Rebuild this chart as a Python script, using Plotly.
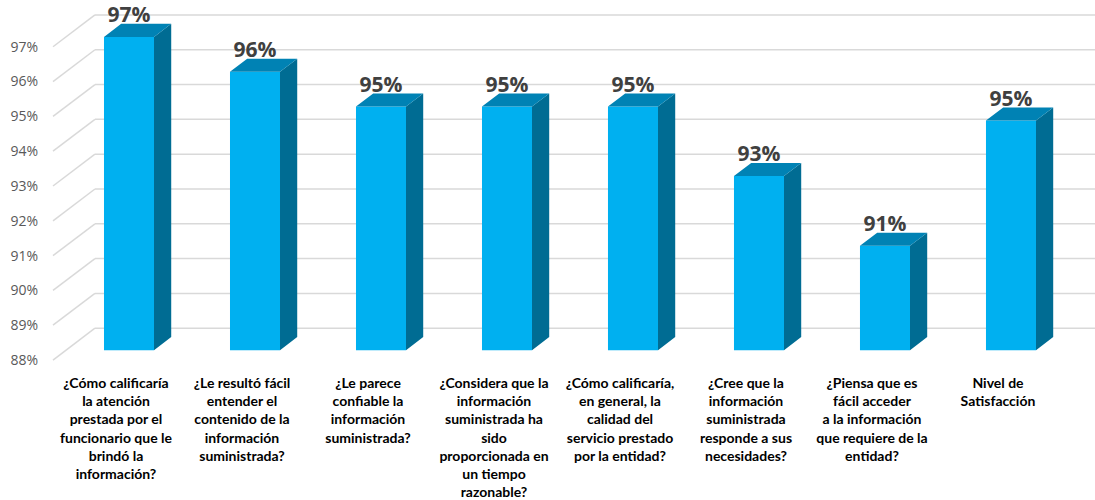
import plotly.graph_objects as go

# ---------------- data ----------------
categories = [
    "¿Cómo calificaría<br>la atención<br>prestada por el<br>funcionario que le<br>brindó la<br>información?",
    "¿Le resultó fácil<br>entender el<br>contenido de la<br>información<br>suministrada?",
    "¿Le parece<br>confiable la<br>información<br>suministrada?",
    "¿Considera que la<br>información<br>suministrada ha<br>sido<br>proporcionada en<br>un tiempo<br>razonable?",
    "¿Cómo calificaría,<br>en general, la<br>calidad del<br>servicio prestado<br>por la entidad?",
    "¿Cree que la<br>información<br>suministrada<br>responde a sus<br>necesidades?",
    "¿Piensa que es<br>fácil acceder<br>a la información<br>que requiere de la<br>entidad?",
    "Nivel de<br>Satisfacción",
]
values = [97, 96, 95, 95, 95, 93, 91, 94.6]
y_ticks = [88, 89, 90, 91, 92, 93, 94, 95, 96, 97]
y_ticklabels = [f"{t}%" for t in y_ticks]
value_labels = [f"{round(v)}%" for v in values]

# ---------------- 3D projection parameters ----------------
BASE = 88.0          # floor value
DX = 0.333           # full depth offset in category units (x)
DY = 0.914           # full depth offset in value units (y)
F0 = 0.31            # depth of bar front face
F1 = 0.72            # depth of bar back face
W = 0.397            # bar width (category units)
XMIN, XMAX = -0.5238, 7.770
YMIN, YMAX = 87.771, 98.343

FRONT = "#00B0F0"
TOP = "#0082B4"
SIDE = "#006C93"
GRID = "#D9D9D9"

xs = list(range(len(values)))
fig = go.Figure()

# gridlines (side wall diagonals + back wall horizontals)
shapes = []
for t in y_ticks:
    shapes.append(dict(type="line", xref="x", yref="y", layer="below",
                       x0=-0.5, y0=t, x1=-0.5 + DX, y1=t + DY,
                       line=dict(color=GRID, width=1.5)))
    shapes.append(dict(type="line", xref="x", yref="y", layer="below",
                       x0=-0.5 + DX, y0=t + DY, x1=8.0, y1=t + DY,
                       line=dict(color=GRID, width=1.5)))

# front faces
xc = [i + F0 * DX for i in xs]
fig.add_trace(go.Bar(x=xc, y=[v - BASE for v in values], base=BASE + F0 * DY,
                     width=W, marker=dict(color=FRONT, line=dict(width=0)),
                     hoverinfo="skip"))

# side faces and top faces
t = F1 - F0
sx, sy, tx, ty = [], [], [], []
for c, v in zip(xc, values):
    xl, xr = c - W / 2, c + W / 2
    sx += [xr, xr + t * DX, xr + t * DX, xr, xr, None]
    sy += [BASE + F0 * DY, BASE + F1 * DY, v + F1 * DY, v + F0 * DY, BASE + F0 * DY, None]
    tx += [xl, xr, xr + t * DX, xl + t * DX, xl, None]
    ty += [v + F0 * DY, v + F0 * DY, v + F1 * DY, v + F1 * DY, v + F0 * DY, None]
fig.add_trace(go.Scatter(x=sx, y=sy, mode="lines", fill="toself", fillcolor=SIDE,
                         line=dict(width=0, color=SIDE), hoverinfo="skip"))
fig.add_trace(go.Scatter(x=tx, y=ty, mode="lines", fill="toself", fillcolor=TOP,
                         line=dict(width=0, color=TOP), hoverinfo="skip"))

# data labels
fig.add_trace(go.Scatter(x=xc, y=[v + F1 * DY + 0.2 for v in values], mode="text",
                         text=value_labels, textposition="middle center",
                         textfont=dict(family="Open Sans", size=21, color="#404040", weight="bold"),
                         cliponaxis=False, hoverinfo="skip"))

fig.update_layout(
    width=1095, height=500,
    margin=dict(l=50, r=0, t=0, b=130),
    paper_bgcolor="white", plot_bgcolor="white",
    showlegend=False, shapes=shapes, hovermode=False,
    xaxis=dict(range=[XMIN, XMAX], tickvals=xs, ticktext=categories,
               showgrid=False, zeroline=False, showline=False, ticks="",
               tickangle=0, ticklabelstandoff=5,
               tickfont=dict(family="Lato", size=14, color="#000000", weight="bold")),
    yaxis=dict(range=[YMIN, YMAX], tickvals=y_ticks, ticktext=y_ticklabels,
               showgrid=False, zeroline=False, showline=False, ticks="",
               ticklabelstandoff=11,
               tickfont=dict(family="Open Sans", size=14, color="#595959")),
)

# remove the browser's default page margin so the figure fills the window
fig.write_html("out.html",
               config={"displayModeBar": False, "staticPlot": True},
               post_script="document.body.style.margin='0';document.body.style.overflow='hidden';")
